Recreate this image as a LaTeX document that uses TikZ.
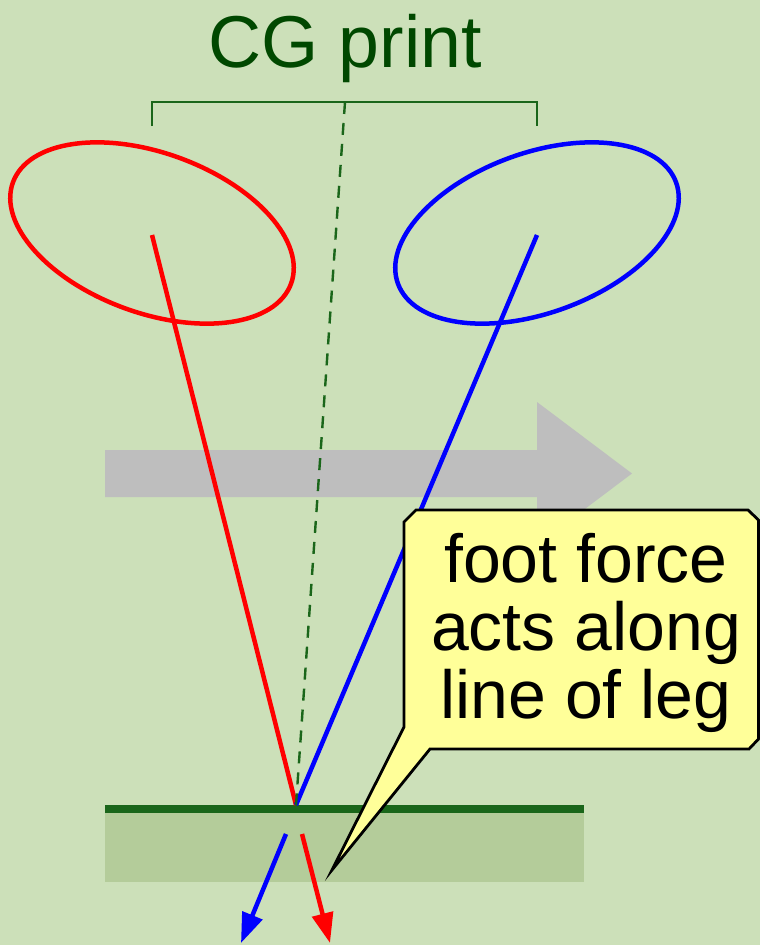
\documentclass[tikz,border=0pt]{standalone}
\usepackage{fontspec}
\setmainfont{Liberation Sans}
\usetikzlibrary{arrows.meta}
\definecolor{bg}{RGB}{204,224,185}
\definecolor{titlegreen}{RGB}{0,72,0}
\definecolor{linegreen}{RGB}{26,102,26}
\definecolor{groundfill}{RGB}{180,204,154}
\definecolor{arrowgray}{RGB}{190,190,190}
\definecolor{calloutyellow}{RGB}{255,255,153}
\definecolor{legred}{RGB}{255,0,0}
\definecolor{legblue}{RGB}{0,0,255}
\tikzset{
  leg/.style={line width=4.5pt},
  body/.style={line width=4.5pt},
  forcearrow/.style={line width=4.5pt,-{Triangle[length=30pt,width=21pt]}},
  bracketline/.style={draw=linegreen,line width=2.2pt},
  cgline/.style={draw=linegreen,line width=2.4pt,dash pattern=on 12pt off 9pt},
  callouttext/.style={font=\fontsize{68}{68}\selectfont,text=black,anchor=base,inner sep=0pt}
}
\begin{document}
\begin{tikzpicture}[x=1pt,y=-1pt]
\fill[bg] (0,0) rectangle (760,945);
\useasboundingbox (0,0) rectangle (760,945);
% ground
\fill[groundfill] (105,809) rectangle (584,882);
\draw[linegreen,line width=8pt] (105,809) -- (584,809);
% gray motion arrow
\fill[arrowgray] (105,450) -- (537,450) -- (537,402) -- (632,473.5) -- (537,545) -- (537,497) -- (105,497) -- cycle;
% title
\node[font=\fontsize{73.5}{73.5}\selectfont,text=titlegreen,anchor=base,inner sep=0pt] (title) at (345,67) {CG print};
% coordinates
\coordinate (lc) at (152,235);
\coordinate (rc) at (537,235);
\coordinate (foot) at (296,805);
\coordinate (bl) at (152,126);
\coordinate (blt) at (152,102);
\coordinate (br) at (537,126);
\coordinate (brt) at (537,102);
\coordinate (bm) at (345,102);
% bracket
\draw[bracketline] (bl) -- (blt) -- (brt) -- (br);
% ellipses (bodies)
\draw[body,legred,rotate around={-20:(152,233)}] (152,233) ellipse [x radius=148pt,y radius=80pt];
\draw[body,legblue,rotate around={20:(537,233)}] (537,233) ellipse [x radius=148pt,y radius=80pt];
% legs
\draw[leg,legred] (lc) -- (foot);
\draw[leg,legblue] (rc) -- (foot);
% CG dashed line
\draw[cgline] (bm) -- (foot);
% foot force arrows
\coordinate (bs) at (286,834);
\coordinate (be) at (241,943);
\coordinate (rs) at (302,834);
\coordinate (re) at (330,943);
\draw[forcearrow,legblue] (bs) -- (be);
\draw[forcearrow,legred] (rs) -- (re);
% callout
\draw[fill=calloutyellow,draw=black,line width=2.8pt,line join=miter]
  (416,510) -- (748,510) -- (758.5,520) -- (758.5,739) -- (749,749) -- (430,749) -- (332,870) -- (404,727) -- (404,522) -- cycle;
\node[callouttext] (t1) at (586,582) {foot force};
\node[callouttext] (t2) at (586,650) {acts along};
\node[callouttext] (t3) at (586,718) {line of leg};
\end{tikzpicture}
\end{document}
